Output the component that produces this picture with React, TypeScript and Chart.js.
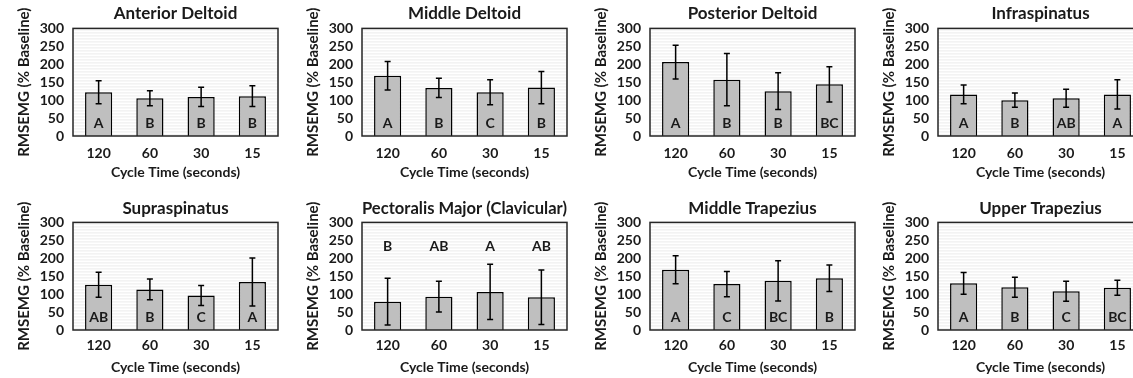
import React, { useEffect, useRef } from 'react';
import { Chart, registerables } from 'chart.js';

Chart.register(...registerables);

// ---------- data ----------
const cycleTimes = ['120', '60', '30', '15'];
const yTicks = [0, 50, 100, 150, 200, 250, 300];

const antDeltMean = [122, 105, 109, 111];
const antDeltErr = [32, 21, 27, 29];
const antDeltLetters = ['A', 'B', 'B', 'B'];

const midDeltMean = [168, 134, 122, 135];
const midDeltErr = [40, 27, 35, 45];
const midDeltLetters = ['A', 'B', 'C', 'B'];

const postDeltMean = [206, 157, 125, 144];
const postDeltErr = [47, 73, 51, 49];
const postDeltLetters = ['A', 'B', 'B', 'BC'];

const infraMean = [116, 100, 105, 116];
const infraErr = [26, 20, 25, 41];
const infraLetters = ['A', 'B', 'AB', 'A'];

const supraMean = [126, 113, 96, 134];
const supraErr = [35, 29, 28, 67];
const supraLetters = ['AB', 'B', 'C', 'A'];

const pecMean = [79, 93, 106, 91];
const pecErr = [65, 43, 77, 76];
const pecLetters = ['B', 'AB', 'A', 'AB'];

const midTrapMean = [168, 128, 137, 144];
const midTrapErr = [39, 35, 56, 37];
const midTrapLetters = ['A', 'C', 'BC', 'B'];

const upTrapMean = [130, 119, 108, 118];
const upTrapErr = [30, 28, 28, 21];
const upTrapLetters = ['A', 'B', 'C', 'BC'];

const panels = [
  { title: 'Anterior Deltoid', mean: antDeltMean, err: antDeltErr, letters: antDeltLetters, letterLevel: 35 },
  { title: 'Middle Deltoid', mean: midDeltMean, err: midDeltErr, letters: midDeltLetters, letterLevel: 35 },
  { title: 'Posterior Deltoid', mean: postDeltMean, err: postDeltErr, letters: postDeltLetters, letterLevel: 35 },
  { title: 'Infraspinatus', mean: infraMean, err: infraErr, letters: infraLetters, letterLevel: 35 },
  { title: 'Supraspinatus', mean: supraMean, err: supraErr, letters: supraLetters, letterLevel: 35 },
  { title: 'Pectoralis Major (Clavicular)', mean: pecMean, err: pecErr, letters: pecLetters, letterLevel: 234 },
  { title: 'Middle Trapezius', mean: midTrapMean, err: midTrapErr, letters: midTrapLetters, letterLevel: 35 },
  { title: 'Upper Trapezius', mean: upTrapMean, err: upTrapErr, letters: upTrapLetters, letterLevel: 35 },
];

const FONT = 'Lato, "Open Sans", sans-serif';
const TEXT = '#1a1a1a';

const CANVAS_W = 288;
const COL_LEFT = [0, 289, 577, 865];
const ROWS = [
  { top: 0, h: 188, xAxisH: 52, titlePad: { top: 3, bottom: 5 }, tickPad: 9, xTitlePad: 7 },
  { top: 188, h: 190, xAxisH: 48, titlePad: { top: 10, bottom: 4 }, tickPad: 7.5, xTitlePad: 2 },
];

function makeDecor(p: any) {
  return {
    id: 'decor',
    beforeDatasetsDraw(chart: any) {
      const { ctx, chartArea: a } = chart;
      ctx.save();
      ctx.strokeStyle = '#ebebeb';
      ctx.lineWidth = 1;
      for (let y = a.top + 1.5; y < a.bottom; y += 3) {
        ctx.beginPath();
        ctx.moveTo(a.left, y);
        ctx.lineTo(a.right, y);
        ctx.stroke();
      }
      ctx.restore();
    },
    afterDatasetsDraw(chart: any) {
      const { ctx, chartArea: a } = chart;
      const ys = chart.scales.y;
      const meta = chart.getDatasetMeta(0);
      ctx.save();
      // error bars
      ctx.strokeStyle = '#000';
      ctx.lineWidth = 1.5;
      meta.data.forEach((el: any, i: number) => {
        const x = el.x;
        const yt = ys.getPixelForValue(p.mean[i] + p.err[i]);
        const yb = ys.getPixelForValue(p.mean[i] - p.err[i]);
        ctx.beginPath();
        ctx.moveTo(x, yt);
        ctx.lineTo(x, yb);
        ctx.moveTo(x - 3, yt);
        ctx.lineTo(x + 3, yt);
        ctx.moveTo(x - 3, yb);
        ctx.lineTo(x + 3, yb);
        ctx.stroke();
      });
      // letters
      ctx.fillStyle = TEXT;
      ctx.font = `bold 14px ${FONT}`;
      ctx.textAlign = 'center';
      ctx.textBaseline = 'middle';
      meta.data.forEach((el: any, i: number) => {
        ctx.fillText(p.letters[i], el.x, ys.getPixelForValue(p.letterLevel));
      });
      // plot border
      ctx.strokeStyle = '#262626';
      ctx.lineWidth = 1.5;
      ctx.strokeRect(a.left, a.top, a.right - a.left, a.bottom - a.top);
      ctx.restore();
    },
  };
}

function Panel({ p, col, row }: { p: any; col: number; row: number }) {
  const ref = useRef<HTMLCanvasElement>(null);
  const r = ROWS[row];
  useEffect(() => {
    const chart = new Chart(ref.current as HTMLCanvasElement, {
      type: 'bar',
      data: {
        labels: cycleTimes,
        datasets: [
          {
            data: p.mean,
            backgroundColor: '#BFBFBF',
            borderColor: '#000',
            borderWidth: 1.5,
            barPercentage: 0.53,
            categoryPercentage: 1,
          },
        ],
      },
      options: {
        responsive: false,
        devicePixelRatio: 1,
        animation: false,
        layout: { padding: { left: 0, right: 10, top: 0, bottom: 0 } },
        plugins: {
          legend: { display: false },
          tooltip: { enabled: false },
          title: {
            display: true,
            fullSize: false,
            text: p.title,
            color: TEXT,
            font: { family: FONT, size: 17, weight: 'bold' },
            padding: r.titlePad,
          },
        },
        scales: {
          x: {
            grid: { display: false, drawTicks: false },
            border: { display: false },
            ticks: {
              color: TEXT,
              font: { family: FONT, size: 14, weight: 'bold' },
              padding: r.tickPad,
              maxRotation: 0,
            },
            title: {
              display: true,
              text: 'Cycle Time (seconds)',
              color: TEXT,
              font: { family: FONT, size: 14, weight: 'bold' },
              padding: { top: 0, bottom: r.xTitlePad },
            },
            afterFit: (s: any) => {
              s.height = r.xAxisH;
            },
          },
          y: {
            min: 0,
            max: 300,
            afterBuildTicks: (s: any) => {
              s.ticks = yTicks.map((v) => ({ value: v }));
            },
            grid: { display: false, drawTicks: false },
            border: { display: false },
            ticks: {
              autoSkip: false,
              color: TEXT,
              font: { family: FONT, size: 14, weight: 'bold' },
              padding: 9,
            },
            title: {
              display: true,
              text: 'RMSEMG (% Baseline)',
              color: TEXT,
              font: { family: FONT, size: 15, weight: 'bold' },
              padding: { top: 15, bottom: 0 },
            },
            afterFit: (s: any) => {
              s.width = 73;
            },
          },
        },
      } as any,
      plugins: [makeDecor(p)],
    });
    return () => chart.destroy();
  }, []);
  return (
    <canvas
      ref={ref}
      width={CANVAS_W}
      height={r.h}
      style={{ position: 'absolute', left: COL_LEFT[col], top: r.top, width: CANVAS_W, height: r.h }}
    />
  );
}

export default function App() {
  return (
    <div
      style={{
        position: 'absolute',
        left: 0,
        top: 0,
        width: 1133,
        height: 378,
        overflow: 'hidden',
        background: '#fff',
      }}
    >
      {panels.map((p, i) => (
        <Panel key={i} p={p} col={i % 4} row={Math.floor(i / 4)} />
      ))}
    </div>
  );
}
